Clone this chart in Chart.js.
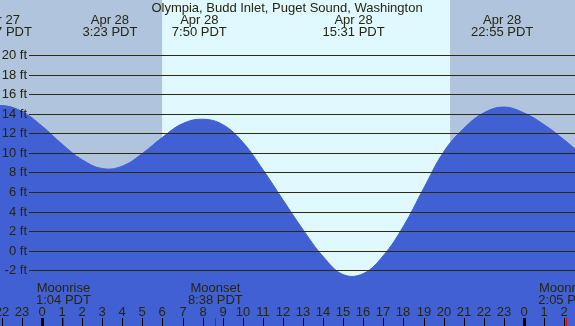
<!DOCTYPE html>
<html lang="en">

<head>
    <meta charset="UTF-8">
    <title>Olympia Tide Chart</title>
    <script src="https://cdn.jsdelivr.net/npm/chart.js"></script>
    <style>
        body { margin: 0; background: #fff; }
        canvas { display: block; }
    </style>
</head>

<body>
    <canvas id="tideChart" width="575" height="326"></canvas>
    <script>
        // hours since midnight Apr 28 (negative = Apr 27), height in feet
        const tideHours = [-3, -2, -1, 0, 1, 2, 3, 4, 5, 6, 7, 8, 9, 10, 11, 12, 13, 14, 15, 16, 17, 18, 19, 20, 21, 22, 23, 24, 25, 26, 27];
        const tideFeet = [14.5, 14.85, 14.25, 12.75, 10.9, 9.3, 8.4, 8.65, 9.95, 11.6, 13.0, 13.45, 12.9, 11.1, 8.3, 5.2, 2.15, -0.6, -2.45, -2.35, -0.5, 2.5, 6.35, 10.1, 12.5, 14.1, 14.7, 14.1, 12.9, 11.35, 9.6];

        const extremeHours = [-2.05, 3.383, 7.833, 15.517, 22.917];
        const extremeDates = ["Apr 27", "Apr 28", "Apr 28", "Apr 28", "Apr 28"];
        const extremeTimes = ["21:57 PDT", "3:23 PDT", "7:50 PDT", "15:31 PDT", "22:55 PDT"];

        const depthTicks = [20, 18, 16, 14, 12, 10, 8, 6, 4, 2, 0, -2];

        const sunrise = 5.98;
        const sunset = 20.32;

        const moonHours = [1.067, 8.633, 26.083];
        const moonNames = ["Moonrise", "Moonset", "Moonrise"];
        const moonTimes = ["1:04 PDT", "8:38 PDT", "2:05 PDT"];

        const FONT = '13px "Liberation Sans", Arial, sans-serif';
        const TEXT = '#26260f';
        const LINE = '#2b2b0d';

        const tidePoints = tideHours.map((h, i) => ({ x: h, y: tideFeet[i] }));

        const backdrop = {
            id: 'backdrop',
            beforeDatasetsDraw(chart) {
                const { ctx, chartArea: a, scales: { x } } = chart;
                ctx.save();
                ctx.fillStyle = '#b0c4de';
                ctx.fillRect(a.left, a.top, a.right - a.left, a.bottom - a.top);
                const x1 = x.getPixelForValue(sunrise);
                const x2 = x.getPixelForValue(sunset);
                ctx.fillStyle = '#e0f8ff';
                ctx.fillRect(x1, a.top, x2 - x1, a.bottom - a.top);
                ctx.restore();
            }
        };

        const overlay = {
            id: 'overlay',
            afterDatasetsDraw(chart) {
                const { ctx, chartArea: a, scales: { x, y } } = chart;
                ctx.save();
                ctx.font = FONT;

                // depth lines and labels
                depthTicks.forEach(d => {
                    const py = Math.round(y.getPixelForValue(d)) + 0.5;
                    ctx.strokeStyle = LINE;
                    ctx.lineWidth = 1;
                    ctx.beginPath();
                    ctx.moveTo(29, py);
                    ctx.lineTo(a.right, py);
                    ctx.stroke();
                    ctx.fillStyle = TEXT;
                    ctx.textAlign = 'right';
                    ctx.textBaseline = 'middle';
                    ctx.fillText(d + ' ft', 27, py);
                });

                // title
                ctx.textAlign = 'center';
                ctx.textBaseline = 'middle';
                ctx.fillStyle = TEXT;
                ctx.fillText('Olympia, Budd Inlet, Puget Sound, Washington', 287, 8);

                // high / low labels
                extremeHours.forEach((h, i) => {
                    const px = x.getPixelForValue(h);
                    ctx.fillText(extremeDates[i], px, 20);
                    ctx.fillText(extremeTimes[i], px, 32);
                });

                // moon labels
                moonHours.forEach((h, i) => {
                    const px = x.getPixelForValue(h);
                    ctx.fillStyle = TEXT;
                    ctx.fillText(moonNames[i], px, 288);
                    ctx.fillText(moonTimes[i], px, 300);
                    ctx.fillStyle = '#e00000';
                    ctx.fillRect(Math.round(px), 318, 1, 8);
                });

                // hour axis
                for (let h = -2; h <= 26; h++) {
                    const px = Math.round(x.getPixelForValue(h));
                    ctx.fillStyle = TEXT;
                    ctx.fillText(String((h + 24) % 24), px, 312);
                    ctx.fillStyle = '#000';
                    if (h % 24 === 0) {
                        ctx.fillRect(px - 1, 318, 3, 8);
                    } else {
                        ctx.fillRect(px, 318, 1, 8);
                    }
                }
                ctx.restore();
            }
        };

        const ctx = document.getElementById('tideChart').getContext('2d');
        const tideChart = new Chart(ctx, {
            type: 'line',
            data: {
                datasets: [{
                    data: tidePoints,
                    borderColor: '#4060d4',
                    borderWidth: 1,
                    backgroundColor: '#4060d4',
                    fill: 'start',
                    pointRadius: 0,
                    tension: 0.4
                }]
            },
            options: {
                responsive: false,
                animation: false,
                layout: { padding: 0 },
                plugins: {
                    legend: { display: false },
                    tooltip: { enabled: false }
                },
                scales: {
                    x: { type: 'linear', min: -2.0916, max: 26.544, display: false },
                    y: { min: -7.71, max: 25.65, display: false }
                }
            },
            plugins: [backdrop, overlay]
        });
    </script>
</body>

</html>
